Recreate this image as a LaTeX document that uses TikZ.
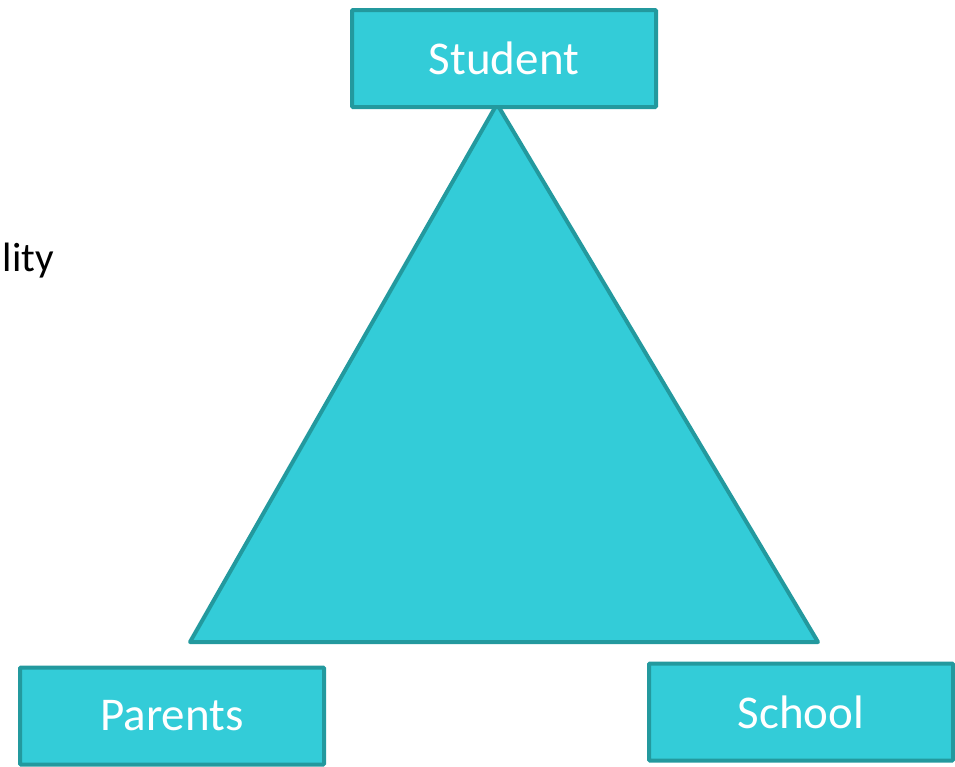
\documentclass[tikz,border=0pt]{standalone}
\usepackage{fontspec}
\setmainfont{Carlito}
\definecolor{boxfill}{RGB}{51,204,216}
\definecolor{boxline}{RGB}{35,153,158}
\begin{document}
\begin{tikzpicture}[x=1pt,y=-1pt,
  lbox/.style={draw=boxline,fill=boxfill,line width=4pt,rounded corners=1pt,
    minimum width=304pt,minimum height=97pt,inner sep=0pt,
    text=white,font=\fontsize{47}{50}\selectfont},
  tri/.style={draw=boxline,fill=boxfill,line width=4pt,line join=round}]
\useasboundingbox (0,0) rectangle (955,766);
\coordinate (apex) at (497,104);
\coordinate (bl) at (190,642);
\coordinate (br) at (818,642);
\draw[tri] (apex) -- (br) -- (bl) -- cycle;
\node[lbox] (student) at (504,58.5) {Student};
\node[lbox] (parents) at (172,716) {Parents};
\node[lbox] (school) at (801,712) {School};
\node[anchor=base east,inner sep=0pt,font=\fontsize{41}{44}\selectfont] (lity) at (54,271) {lity};
\end{tikzpicture}
\end{document}
